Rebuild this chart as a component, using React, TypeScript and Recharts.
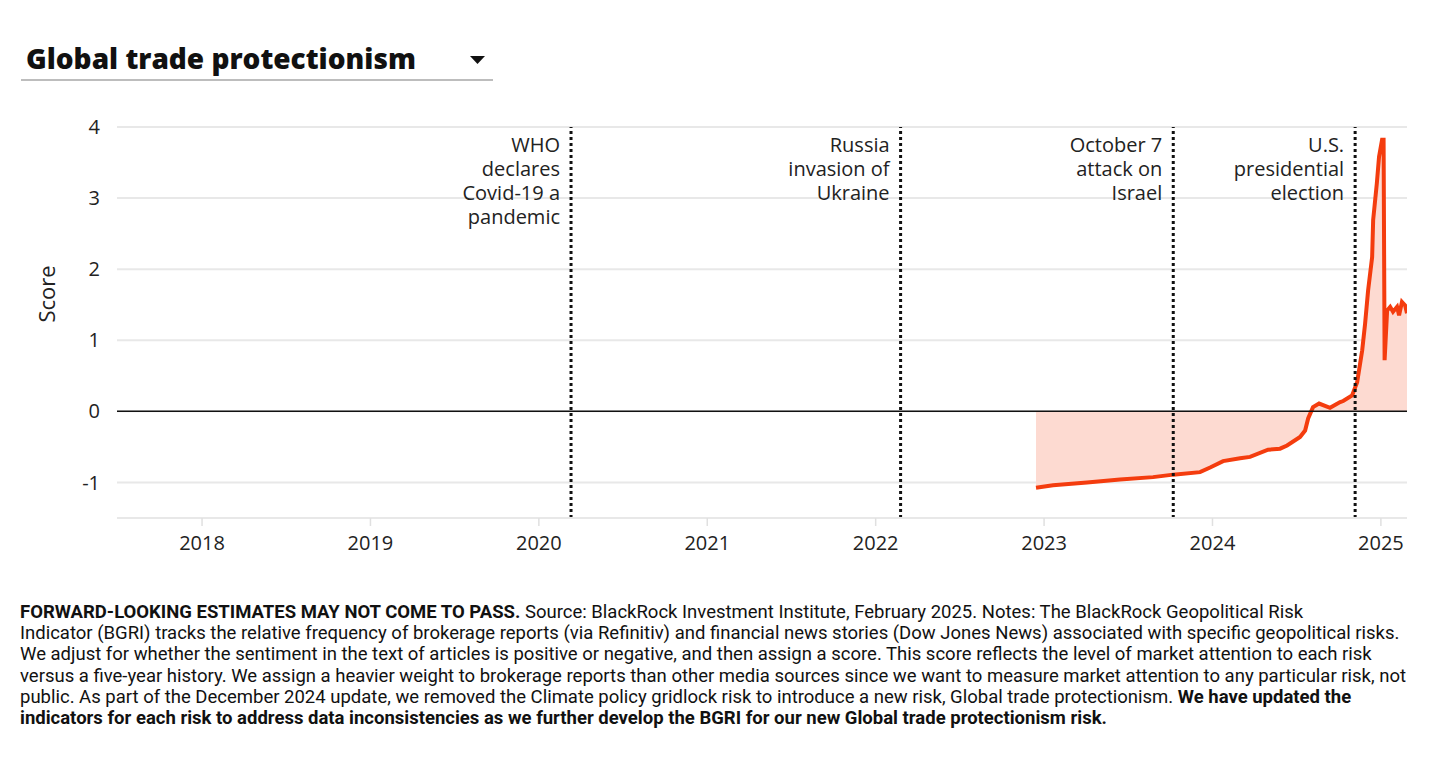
import React from 'react';
import { ComposedChart, Area, XAxis, YAxis, CartesianGrid, ReferenceLine } from 'recharts';

// decimal years and BGRI score
const times = [
  2022.952, 2023.053, 2023.255, 2023.451, 2023.647, 2023.766, 2023.926, 2023.986,
  2024.063, 2024.164, 2024.223, 2024.33, 2024.401, 2024.443, 2024.52, 2024.55,
  2024.568, 2024.597, 2024.633, 2024.698, 2024.758, 2024.776, 2024.829, 2024.859,
  2024.889, 2024.906, 2024.924, 2024.948, 2024.954, 2024.976, 2024.989, 2025.007,
  2025.016, 2025.022, 2025.037, 2025.055, 2025.072, 2025.096, 2025.108, 2025.125,
  2025.144, 2025.155,
];
const scores = [
  -1.075, -1.04, -1.0, -0.96, -0.925, -0.89, -0.855, -0.79,
  -0.7, -0.66, -0.64, -0.54, -0.525, -0.48, -0.36, -0.27,
  -0.1, 0.06, 0.11, 0.05, 0.13, 0.145, 0.225, 0.41,
  0.86, 1.23, 1.7, 2.17, 2.69, 3.21, 3.58, 3.82,
  3.82, 0.72, 1.42, 1.47, 1.4, 1.47, 1.35, 1.54,
  1.49, 1.38,
];

const yearTicks = [2018, 2019, 2020, 2021, 2022, 2023, 2024, 2025];
const scoreTicks = [-1, 0, 1, 2, 3, 4];

const eventDates = [2020.191, 2022.148, 2023.767, 2024.847];
const eventLabels = [
  ['WHO', 'declares', 'Covid-19 a', 'pandemic'],
  ['Russia', 'invasion of', 'Ukraine'],
  ['October 7', 'attack on', 'Israel'],
  ['U.S.', 'presidential', 'election'],
];

const data = times.map((t, i) => ({ t, score: scores[i] }));

const LINE = '#f43c0e';
const FILL = '#fddad1';
const FONT = '"Open Sans", sans-serif';

function EventLabel({ viewBox, lines }: any) {
  const x = viewBox.x - 11;
  const y = viewBox.y + 25;
  return (
    <g>
      {lines.map((l: string, i: number) => (
        <text key={i} x={x} y={y + i * 24} textAnchor="end" fill="#222" fontSize={20} fontFamily={FONT}>
          {l}
        </text>
      ))}
    </g>
  );
}

export default function App() {
  return (
    <div style={{ position: 'absolute', left: 0, top: 0, width: 1456, height: 771, background: '#fff', fontFamily: FONT }}>
      <div style={{ position: 'absolute', left: 26, top: 40, fontSize: 28, fontWeight: 800, color: '#111', lineHeight: '36px', whiteSpace: 'nowrap' }}>
        Global trade protectionism
      </div>
      <svg style={{ position: 'absolute', left: 468, top: 54 }} width={20} height={12}>
        <polygon points="2,2 17,2 9.5,10" fill="#111" />
      </svg>
      <div style={{ position: 'absolute', left: 21, top: 79, width: 472, height: 2, background: '#bdbdbd' }} />

      <div style={{ position: 'absolute', left: 0, top: 0 }}>
        <ComposedChart width={1456} height={580} data={data} margin={{ top: 127, right: 49, left: 57, bottom: 22 }}>
          <CartesianGrid vertical={false} stroke="#e8e8e8" strokeWidth={2} />
          <XAxis
            dataKey="t"
            type="number"
            domain={[2017.495, 2025.155]}
            ticks={yearTicks}
            allowDataOverflow
            height={40}
            axisLine={{ stroke: '#e8e8e8', strokeWidth: 2 }}
            tickLine={{ stroke: '#e0e0e0', strokeWidth: 1.5 }}
            tickSize={8}
            tickMargin={10}
            tick={{ fill: '#222', fontSize: 20, fontFamily: FONT }}
          />
          <YAxis
            type="number"
            domain={[-1.5, 4]}
            ticks={scoreTicks}
            allowDataOverflow
            width={60}
            axisLine={false}
            tickLine={false}
            tickMargin={11}
            tick={{ fill: '#222', fontSize: 20, fontFamily: FONT }}
            label={{ value: 'Score', angle: -90, position: 'insideLeft', dx: -15, fill: '#222', fontSize: 22, fontFamily: FONT }}
          />
          <Area
            type="linear"
            dataKey="score"
            baseValue={0}
            stroke={LINE}
            strokeWidth={4}
            fill={FILL}
            fillOpacity={1}
            dot={false}
            activeDot={false}
            isAnimationActive={false}
          />
          <ReferenceLine y={0} stroke="#111" strokeWidth={1.5} />
          {eventDates.map((d, i) => (
            <ReferenceLine
              key={d}
              x={d}
              stroke="#111"
              strokeWidth={3}
              strokeDasharray="3 3"
              label={(p: any) => <EventLabel viewBox={p.viewBox} lines={eventLabels[i]} />}
            />
          ))}
        </ComposedChart>
      </div>

      <div style={{ position: 'absolute', left: 20, top: 602, fontFamily: 'Roboto, sans-serif', fontSize: 18.5, lineHeight: '21.2px', color: '#111', whiteSpace: 'nowrap' }}>
        <b>FORWARD-LOOKING ESTIMATES MAY NOT COME TO PASS.</b> Source: BlackRock Investment Institute, February 2025. Notes: The BlackRock Geopolitical Risk<br />
        Indicator (BGRI) tracks the relative frequency of brokerage reports (via Refinitiv) and financial news stories (Dow Jones News) associated with specific geopolitical risks.<br />
        We adjust for whether the sentiment in the text of articles is positive or negative, and then assign a score. This score reflects the level of market attention to each risk<br />
        versus a five-year history. We assign a heavier weight to brokerage reports than other media sources since we want to measure market attention to any particular risk, not<br />
        public. As part of the December 2024 update, we removed the Climate policy gridlock risk to introduce a new risk, Global trade protectionism. <b>We have updated the</b><br />
        <b>indicators for each risk to address data inconsistencies as we further develop the BGRI for our new Global trade protectionism risk.</b>
      </div>
    </div>
  );
}
